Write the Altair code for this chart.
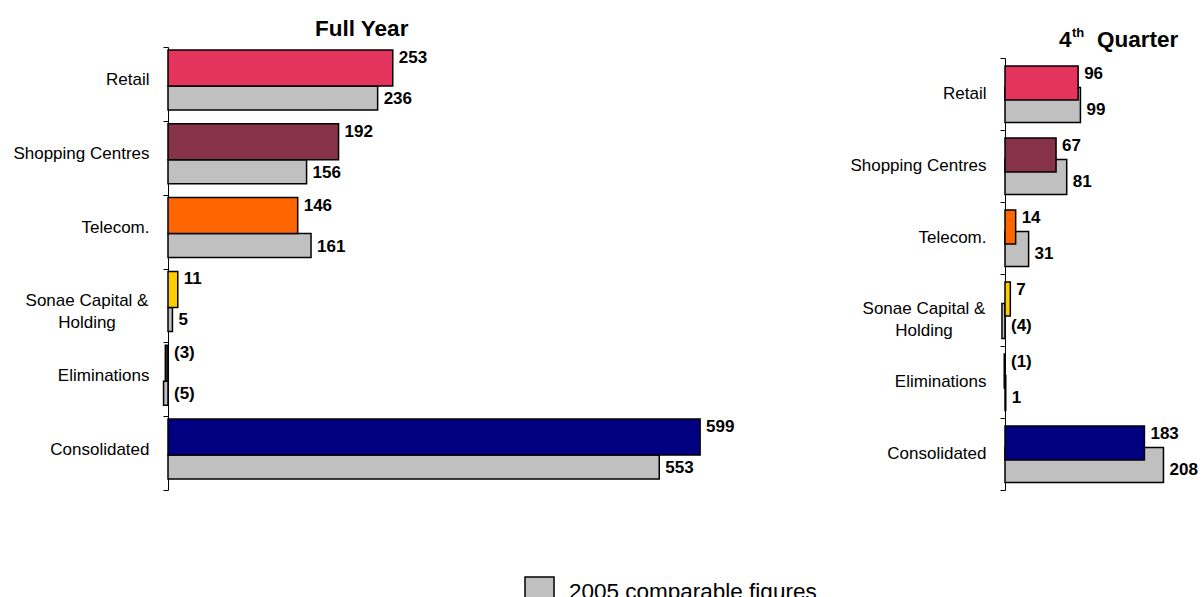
import altair as alt
import pandas as pd

# ---------------- data ----------------
categories = ["Retail", "Shopping Centres", "Telecom.", "Sonae Capital & Holding", "Eliminations", "Consolidated"]
colors_2006 = ["#e4335d", "#86334a", "#ff6600", "#ffcc00", "#333333", "#000080"]
fy_2006 = [253, 192, 146, 11, -3, 599]
fy_2005 = [236, 156, 161, 5, -5, 553]
q4_2006 = [96, 67, 14, 7, -1, 183]
q4_2005 = [99, 81, 31, -4, 1, 208]
legend_label = "2005 comparable figures"
title_fy = "Full Year"
title_q4 = ["4", "th", "Quarter"]
wrapped_category = "Sonae Capital & Holding"
wrapped_lines = ["Sonae Capital &", "Holding"]

FONT = "Liberation Sans"
GRAY = "#c0c0c0"

LABEL_EXPR = f"datum.value == '{wrapped_category}' ? '' : datum.value"


def title_text(txt, x, y, size):
    return alt.Chart(pd.DataFrame({"t": [txt]})).mark_text(
        font=FONT, fontSize=size, fontWeight="bold", align="left", baseline="alphabetic", color="black"
    ).encode(x=alt.value(x), y=alt.value(y), text="t:N")


def panel(v06, v05, xmax, width, yrange, bar06, bar05, dy06, dy05, label_offset, with_legend):
    df = pd.DataFrame({
        "category": categories,
        "v06": v06,
        "v05": v05,
        "col": colors_2006,
        "series": [legend_label] * len(categories),
        "wl": ["|".join(wrapped_lines) if c == wrapped_category else c for c in categories],
    })
    base = alt.Chart(df).transform_calculate(
        lab06="datum.v06 < 0 ? '(' + abs(datum.v06) + ')' : '' + datum.v06",
        lab05="datum.v05 < 0 ? '(' + abs(datum.v05) + ')' : '' + datum.v05",
        pos06="max(datum.v06, 0)",
        pos05="max(datum.v05, 0)",
    )
    yscale = alt.Scale(paddingInner=0, paddingOuter=0, range=yrange)
    yaxis = alt.Axis(
        title=None, domainColor="black", domainWidth=1, tickColor="black", tickSize=5,
        tickWidth=1, tickBand="extent", labelFont=FONT, labelFontSize=17, labelColor="black",
        labelPadding=14, labelExpr=LABEL_EXPR, labelOffset=label_offset, grid=False,
    )
    yenc = alt.Y("category:N", sort=categories, scale=yscale, axis=yaxis)
    xscale = alt.Scale(domain=[0, xmax], nice=False, zero=False)

    if with_legend:
        fill05 = alt.Fill(
            "series:N",
            scale=alt.Scale(domain=[legend_label], range=[GRAY]),
            legend=alt.Legend(
                orient="none", legendX=356, legendY=529, title=None, symbolType="square",
                symbolSize=841, symbolStrokeColor="black", symbolStrokeWidth=1.5,
                labelFont=FONT, labelFontSize=22.5, labelColor="black", labelOffset=14,
                labelLimit=500, padding=0, symbolOpacity=1,
            ),
        )
    else:
        fill05 = alt.value(GRAY)

    gray = base.mark_bar(height=bar05[0], yOffset=bar05[1], stroke="black", strokeWidth=1.5).encode(
        x=alt.X("v05:Q", scale=xscale, axis=None),
        y=yenc,
        fill=fill05,
    )
    colored = base.mark_bar(height=bar06[0], yOffset=bar06[1], stroke="black", strokeWidth=1.5).encode(
        x=alt.X("v06:Q", scale=xscale, axis=None),
        y=yenc,
        color=alt.Color("col:N", scale=None),
    )
    txt06 = base.mark_text(font=FONT, fontSize=17, fontWeight="bold", align="left",
                           baseline="middle", dx=6, dy=dy06, color="black").encode(
        x=alt.X("pos06:Q", scale=xscale, axis=None), y=yenc, text="lab06:N")
    txt05 = base.mark_text(font=FONT, fontSize=17, fontWeight="bold", align="left",
                           baseline="middle", dx=6, dy=dy05, color="black").encode(
        x=alt.X("pos05:Q", scale=xscale, axis=None), y=yenc, text="lab05:N")
    wrapped = base.transform_filter(f"datum.category == '{wrapped_category}'").mark_text(
        font=FONT, fontSize=17, align="center", baseline="middle", lineHeight=22, lineBreak="|",
        dy=label_offset, color="black").encode(
        x=alt.value(-81), y=yenc, text="wl:N")
    return [gray, colored, txt06, txt05, wrapped], width


left_layers, lw = panel(fy_2006, fy_2005, 600, 533, [0, 443], (36, -16), (24, 14), -26, 15, -4, True)
left = alt.layer(*left_layers, title_text(title_fy, 147, -11.5, 22.5)).properties(width=lw, height=443)

right_layers, rw = panel(q4_2006, q4_2005, 210, 160, [11, 443], (34, -11), (35, 11), -20, 16, -1, False)
right = alt.layer(
    *right_layers,
    title_text(title_q4[0], 54, 0, 22.5),
    title_text(title_q4[1], 67, -10, 13),
    title_text(title_q4[2], 92, 0, 22.5),
).properties(width=rw, height=443)

chart = alt.hconcat(left, right, spacing=304, bounds="flush").properties(
    padding={"left": 12, "top": 17, "right": 0, "bottom": 0},
    background="white",
).configure_view(stroke=None).configure_concat(spacing=304)

chart.save("out.html", embed_options={"renderer": "svg", "actions": False})
